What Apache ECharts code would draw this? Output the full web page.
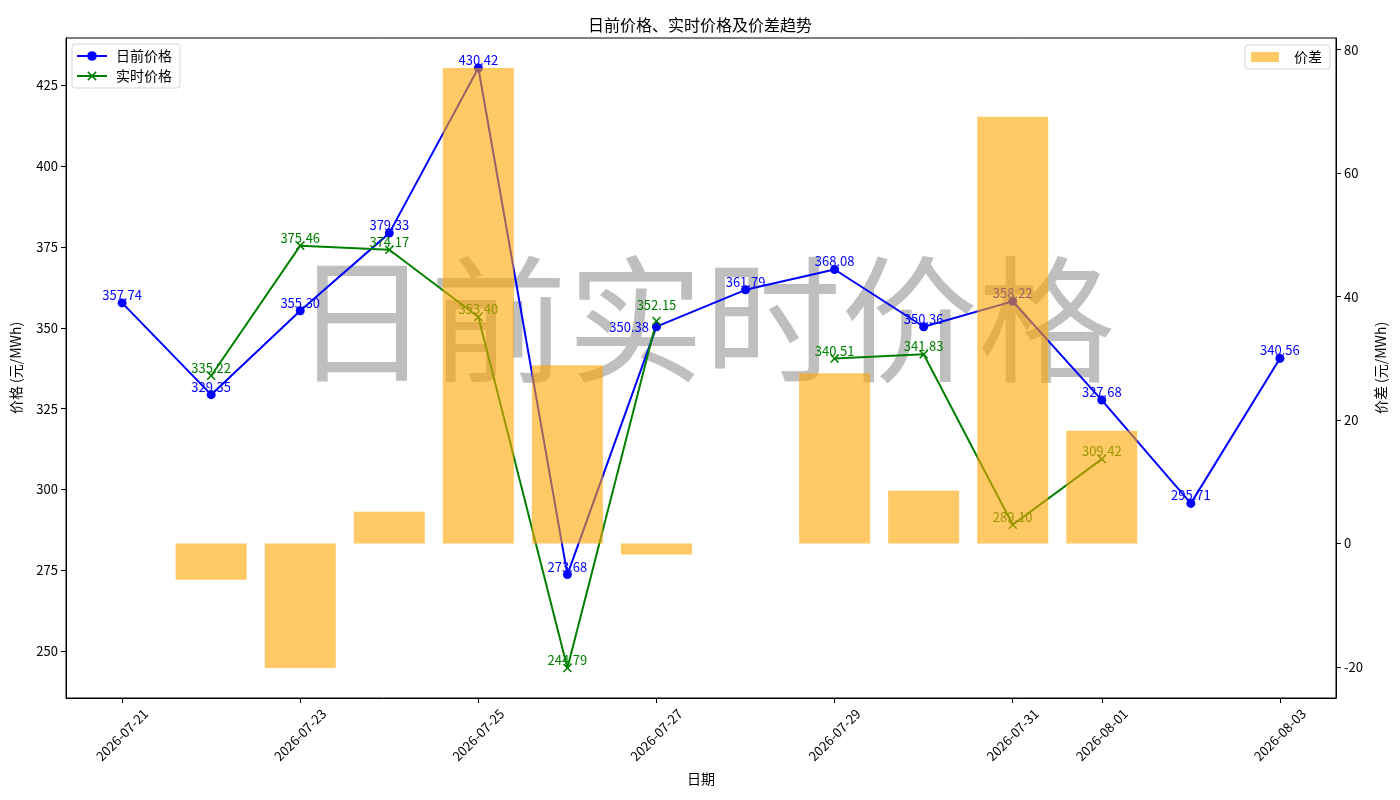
<!DOCTYPE html>
<html lang="zh">
<head>
    <meta charset="UTF-8">
    <title>日前价格、实时价格及价差趋势</title>
    <script src="https://cdn.jsdelivr.net/npm/echarts@6/dist/echarts.min.js"></script>
    <style>
        html, body { margin: 0; padding: 0; background: #fff; }
        #main { width: 1400px; height: 800px; }
    </style>
</head>
<body>
<div id="main"></div>
<script type="text/javascript">
    // 日期
    var dates = ['2026-07-21', '2026-07-22', '2026-07-23', '2026-07-24', '2026-07-25', '2026-07-26', '2026-07-27',
        '2026-07-28', '2026-07-29', '2026-07-30', '2026-07-31', '2026-08-01', '2026-08-02', '2026-08-03'];
    // 日前价格
    var dayAhead = [357.74, 329.35, 355.30, 379.33, 430.42, 273.68, 350.38, 361.79, 368.08, 350.36, 358.22, 327.68, 295.71, 340.56];
    // 实时价格（缺失为 null）
    var realTime = [null, 335.22, 375.46, 374.17, 353.40, 244.79, 352.15, null, 340.51, 341.83, 289.10, 309.42, null, null];
    // 价差
    var spread = [null, -5.87, -20.16, 5.16, 77.02, 28.89, -1.77, null, 27.57, 8.53, 69.12, 18.26, null, null];
    // 刻度
    var xTickIdx = [0, 2, 4, 6, 8, 10, 11, 13];
    var priceTicks = [250, 275, 300, 325, 350, 375, 400, 425];
    var spreadTicks = [-20, 0, 20, 40, 60, 80];

    var FONT = '"Noto Sans CJK SC", "DejaVu Sans", sans-serif';
    var X_PATH = 'path://M0,1.2L1.2,0L5,3.8L8.8,0L10,1.2L6.2,5L10,8.8L8.8,10L5,6.2L1.2,10L0,8.8L3.8,5Z';

    // 两条价格很接近时，标签错开
    function isClose(i) {
        return dayAhead[i] != null && realTime[i] != null && Math.abs(dayAhead[i] - realTime[i]) < 3;
    }

    function toPoints(arr, isDayAhead) {
        var out = [];
        for (var i = 0; i < arr.length; i++) {
            var item = { value: [i, arr[i] == null ? '-' : arr[i]] };
            if (isClose(i)) {
                item.label = isDayAhead ? { position: 'left', distance: 3 } : { position: 'top', distance: 5 };
            }
            out.push(item);
        }
        return out;
    }
    function toBars(arr) {
        var out = [];
        for (var i = 0; i < arr.length; i++) {
            if (arr[i] != null) out.push([i, arr[i]]);
        }
        return out;
    }

    var chart = echarts.init(document.getElementById('main'));
    var option = {
        backgroundColor: '#ffffff',
        animation: false,
        textStyle: { fontFamily: FONT },
        title: {
            text: '日前价格、实时价格及价差趋势',
            left: 'center',
            top: 12,
            textStyle: { fontSize: 16, fontWeight: 'normal', color: '#000', fontFamily: FONT }
        },
        legend: [{
            data: ['日前价格', '实时价格'],
            orient: 'vertical',
            left: 72,
            top: 44,
            itemWidth: 30,
            itemHeight: 12,
            itemGap: 6,
            padding: [5, 8, 5, 4],
            borderColor: '#d5d5d5',
            borderWidth: 1,
            borderRadius: 3,
            textStyle: { fontSize: 14, color: '#000', fontFamily: FONT, padding: [0, 0, 0, 4] }
        }, {
            data: ['价差'],
            right: 70,
            top: 45,
            icon: 'rect',
            itemWidth: 28,
            itemHeight: 10,
            padding: [5, 8, 5, 6],
            borderColor: '#d5d5d5',
            borderWidth: 1,
            borderRadius: 3,
            textStyle: { fontSize: 14, color: '#000', fontFamily: FONT, padding: [0, 0, 0, 10] }
        }],
        grid: {
            left: 66, right: 64, top: 38, bottom: 102,
            show: true, borderColor: '#000', borderWidth: 1
        },
        xAxis: {
            type: 'value',
            min: -0.63,
            max: 13.63,
            name: '日期',
            nameLocation: 'middle',
            nameGap: 74,
            nameTextStyle: { fontSize: 14, color: '#000', fontFamily: FONT },
            axisLine: { show: true, onZero: false, lineStyle: { color: '#000' } },
            axisTick: { show: true, length: 5, customValues: xTickIdx, lineStyle: { color: '#000' } },
            splitLine: { show: false },
            axisLabel: {
                customValues: xTickIdx,
                rotate: 45,
                align: 'center',
                verticalAlign: 'middle',
                margin: 37,
                fontSize: 13,
                color: '#000',
                fontFamily: FONT,
                formatter: function (v) { return dates[Math.round(v)]; }
            }
        },
        yAxis: [{
            type: 'value',
            position: 'left',
            min: 235.5,
            max: 439.7,
            name: '价格 (元/MWh)',
            nameLocation: 'middle',
            nameRotate: 90,
            nameGap: 43,
            nameTextStyle: { fontSize: 14, color: '#000', fontFamily: FONT },
            axisLine: { show: true, onZero: false, lineStyle: { color: '#000' } },
            axisTick: { show: true, length: 5, customValues: priceTicks, lineStyle: { color: '#000' } },
            splitLine: { show: false },
            axisLabel: { customValues: priceTicks, fontSize: 13, color: '#000', margin: 8, fontFamily: FONT }
        }, {
            type: 'value',
            position: 'right',
            min: -25.02,
            max: 81.88,
            name: '价差 (元/MWh)',
            nameLocation: 'middle',
            nameRotate: 90,
            nameGap: 36,
            nameTextStyle: { fontSize: 14, color: '#000', fontFamily: FONT },
            axisLine: { show: true, onZero: false, lineStyle: { color: '#000' } },
            axisTick: { show: true, length: 5, customValues: spreadTicks, lineStyle: { color: '#000' } },
            splitLine: { show: false },
            axisLabel: { customValues: spreadTicks, fontSize: 13, color: '#000', margin: 8, fontFamily: FONT }
        }],
        graphic: [{
            type: 'text',
            z: 1,
            silent: true,
            style: {
                text: '日前实时价格',
                x: 704,
                y: 320,
                textAlign: 'center',
                textVerticalAlign: 'middle',
                fontSize: 137,
                fontFamily: FONT,
                fill: 'rgba(128,128,128,0.5)'
            }
        }],
        series: [{
            name: '日前价格',
            type: 'line',
            xAxisIndex: 0,
            yAxisIndex: 0,
            z: 2,
            data: toPoints(dayAhead, true),
            symbol: 'circle',
            symbolSize: 9,
            showAllSymbol: true,
            lineStyle: { color: '#0000ff', width: 2 },
            itemStyle: { color: '#0000ff' },
            label: {
                show: true,
                position: 'top',
                distance: -3,
                color: '#0000ff',
                fontSize: 13,
                fontFamily: FONT,
                formatter: function (p) { return p.value[1].toFixed(2); }
            }
        }, {
            name: '实时价格',
            type: 'line',
            xAxisIndex: 0,
            yAxisIndex: 0,
            z: 2,
            data: toPoints(realTime, false),
            connectNulls: false,
            symbol: X_PATH,
            symbolSize: 9,
            showAllSymbol: true,
            lineStyle: { color: '#008000', width: 2 },
            itemStyle: { color: '#008000' },
            label: {
                show: true,
                position: 'top',
                distance: -3,
                color: '#008000',
                fontSize: 13,
                fontFamily: FONT,
                formatter: function (p) { return p.value[1].toFixed(2); }
            }
        }, {
            name: '价差',
            type: 'bar',
            xAxisIndex: 0,
            yAxisIndex: 1,
            z: 5,
            barWidth: 71,
            data: toBars(spread),
            itemStyle: { color: 'rgba(255,165,0,0.6)' }
        }]
    };
    chart.setOption(option);
</script>
</body>
</html>
